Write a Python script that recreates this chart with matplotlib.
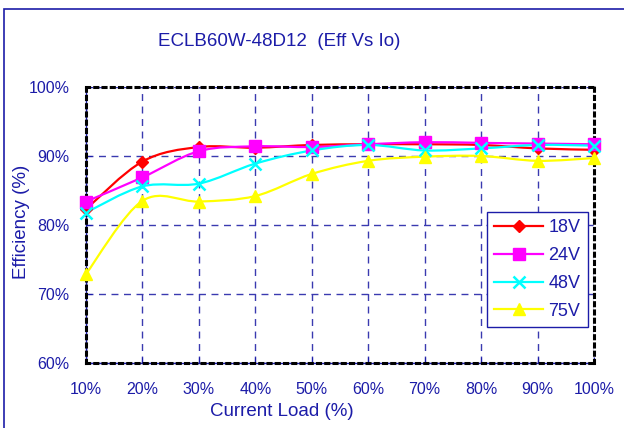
import matplotlib
matplotlib.use("Agg")
import matplotlib.pyplot as plt
from matplotlib.path import Path
from matplotlib.patches import PathPatch, Rectangle
from matplotlib.lines import Line2D
from matplotlib.ticker import PercentFormatter
import numpy as np

plt.rcParams['font.family'] = ['Liberation Sans', 'DejaVu Sans']

# load points (% of rated current) and efficiency (%)
load = [10, 20, 30, 40, 50, 60, 70, 80, 90, 100]
eff_18v = [82.3, 89.2, 91.3, 91.2, 91.6, 91.7, 91.7, 91.6, 91.1, 90.9]
eff_24v = [83.4, 86.9, 90.7, 91.4, 91.3, 91.7, 92.0, 91.9, 91.8, 91.7]
eff_48v = [81.8, 85.6, 86.0, 88.9, 90.8, 91.6, 90.8, 91.1, 91.6, 91.5]
eff_75v = [72.9, 83.5, 83.4, 84.2, 87.4, 89.3, 89.9, 90.0, 89.3, 89.7]
series_names = ["18V", "24V", "48V", "75V"]

navy = "#1c1ca8"
grid_col = "#3a3ab0"


def smooth_path(xs, ys):
    # excel-like smoothed line: bezier segments through each data point
    p = np.column_stack([xs, ys]).astype(float)
    verts = [p[0]]
    codes = [Path.MOVETO]
    n = len(p)
    for i in range(n - 1):
        p0 = p[i - 1] if i > 0 else p[i]
        p3 = p[i + 2] if i + 2 < n else p[i + 1]
        c1 = p[i] + (p[i + 1] - p0) / 6.0
        c2 = p[i + 1] - (p3 - p[i]) / 6.0
        verts += [c1, c2, p[i + 1]]
        codes += [Path.CURVE4] * 3
    return Path(verts, codes)


fig = plt.figure(figsize=(6.24, 4.28), dpi=100)
# outer chart border (only top/left visible in the crop)
fig.patches.append(Rectangle((4 / 624, -0.1), 1.2, 1 - 9 / 428 + 0.1,
                             transform=fig.transFigure, fill=False,
                             edgecolor=navy, linewidth=1.2))

ax = fig.add_axes([86 / 624, 1 - 363 / 428, (594 - 86) / 624, (363 - 87) / 428])

styles = [
    (eff_18v, "#ff0000", "D", 6),
    (eff_24v, "#ff00ff", "s", 8),
    (eff_48v, "#00ffff", "x", 8),
    (eff_75v, "#ffff00", "^", 9),
]

handles = []
for (vals, col, mk, ms), name in zip(styles, series_names):
    x = np.array(load) / 100.0
    y = np.array(vals) / 100.0
    ax.add_patch(PathPatch(smooth_path(x, y), fill=False, edgecolor=col,
                           linewidth=1.6, zorder=3))
    ax.plot(x, y, linestyle="none", marker=mk, color=col, markersize=ms,
            markeredgewidth=1.8 if mk == "x" else 1, clip_on=False, zorder=4)
    handles.append(Line2D([], [], color=col, marker=mk, markersize=ms,
                          linewidth=1.6, markeredgewidth=1.8 if mk == "x" else 1,
                          label=name))

ax.set_xlim(0.1, 1.0)
ax.set_ylim(0.6, 1.0)
ax.set_xticks(np.array(load) / 100.0)
ax.set_yticks([0.6, 0.7, 0.8, 0.9, 1.0])
ax.xaxis.set_major_formatter(PercentFormatter(1.0, decimals=0))
ax.yaxis.set_major_formatter(PercentFormatter(1.0, decimals=0))
ax.tick_params(direction="in", length=4, color=navy, labelcolor=navy,
               labelsize=11.5)
ax.tick_params(axis="x", pad=14)
ax.tick_params(axis="y", pad=12)

ax.grid(True, color=grid_col, linestyle=(0, (5, 4)), linewidth=1)

# black dotted plot-area frame over a thin blue axis line
for s in ax.spines.values():
    s.set_color("black")
    s.set_linestyle((0, (1, 1.7)))
    s.set_linewidth(2.2)
ax.plot([0, 0], [0, 1], color=navy, linewidth=1, transform=ax.transAxes,
        clip_on=False, zorder=2)
ax.plot([0, 1], [0, 0], color=navy, linewidth=1, transform=ax.transAxes,
        clip_on=False, zorder=2)

fig.text(279 / 624, 1 - 41 / 428, "ECLB60W-48D12  (Eff Vs Io)", color=navy,
         fontsize=13.5, ha="center", va="center")
fig.text(282 / 624, 1 - 411 / 428, "Current Load (%)", color=navy,
         fontsize=13.5, ha="center", va="center")
fig.text(22 / 624, 1 - 222 / 428, "Efficiency (%)", color=navy,
         fontsize=13.5, ha="center", va="center", rotation=90)

leg = ax.legend(handles=handles, loc="upper left",
                bbox_to_anchor=((487 - 86) / 508, (363 - 212) / 276),
                fontsize=13, frameon=True, fancybox=False, framealpha=1,
                edgecolor=navy, handlelength=2.7, labelspacing=0.6,
                borderpad=0.4, handletextpad=0.3, borderaxespad=0)
leg.get_frame().set_linewidth(1)
for t in leg.get_texts():
    t.set_color(navy)

fig.savefig("out.png", dpi=100)
